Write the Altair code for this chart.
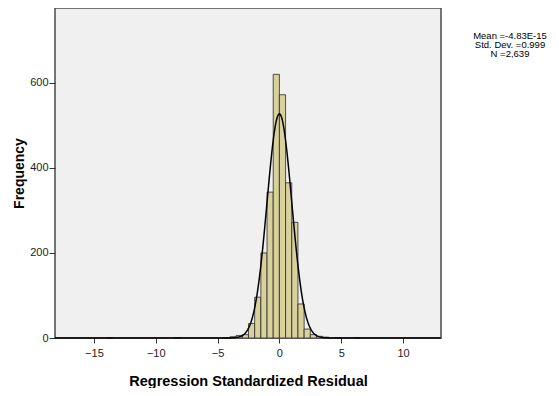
import altair as alt
import pandas as pd

# Histogram bins (bin start, bin end) and counts
bin_start = [-14.0, -8.5, -4.5, -4.0, -3.5, -3.0, -2.5, -2.0, -1.5, -1.0, -0.5, 0.0, 0.5, 1.0, 1.5, 2.0, 2.5, 3.0, 3.5, 4.5, 6.0]
bin_end   = [-13.5, -8.0, -4.0, -3.5, -3.0, -2.5, -2.0, -1.5, -1.0, -0.5, 0.0, 0.5, 1.0, 1.5, 2.0, 2.5, 3.0, 3.5, 4.0, 5.0, 6.5]
counts    = [1, 1, 1, 3, 6, 8, 34, 96, 200, 343, 620, 572, 365, 272, 80, 21, 8, 4, 2, 1, 1]

x_ticks = [-15, -10, -5, 0, 5, 10]
y_ticks = [0, 200, 400, 600]

mean_val = -4.83e-15
sd_val = 0.999
n_val = 2639
bin_width = 0.5

stats_lines = ["Mean =-4.83E-15", "Std. Dev. =0.999", "N =2,639"]

FONT = "Liberation Sans"

hist_df = pd.DataFrame({"start": bin_start, "end": bin_end, "count": counts})

xscale = alt.Scale(domain=[-18.15, 13.07], nice=False, zero=False)
yscale = alt.Scale(domain=[0, 776], nice=False)

xaxis = alt.Axis(values=x_ticks, title="Regression Standardized Residual", grid=False,
                 domain=False, tickColor="#333333", tickSize=5, labelFontSize=11,
                 labelColor="#222222", labelFont=FONT, titleFont=FONT, titleFontSize=14.5,
                 titleFontWeight="bold", titleColor="#000000", titlePadding=16, labelPadding=4)
yaxis = alt.Axis(values=y_ticks, title="Frequency", grid=False, domain=False,
                 tickColor="#333333", tickSize=6, labelFontSize=11, labelColor="#222222",
                 labelFont=FONT, titleFont=FONT, titleFontSize=14, titleFontWeight="bold",
                 titleColor="#000000", titlePadding=3, labelPadding=1)

bars = alt.Chart(hist_df).mark_rect(fill="#D8D19C", stroke="#2a2a2a", strokeWidth=0.8).encode(
    x=alt.X("start:Q", scale=xscale, axis=xaxis),
    x2="end:Q",
    y=alt.Y("count:Q", scale=yscale, axis=yaxis),
    y2=alt.datum(0),
)

curve = alt.Chart(alt.sequence(start=-18.15, stop=13.08, step=0.04, as_="x")).transform_calculate(
    dens=f"{n_val} * {bin_width} * densityNormal(datum.x, {mean_val}, {sd_val})"
).mark_line(color="#000000", strokeWidth=1.5).encode(
    x=alt.X("x:Q", scale=xscale),
    y=alt.Y("dens:Q", scale=yscale),
)

stats_df = pd.DataFrame({"txt": ["\n".join(stats_lines)]})
stats = alt.Chart(stats_df).mark_text(font=FONT, fontSize=9.5, align="center", baseline="top",
                                      lineBreak="\n", lineHeight=9, color="#000000").encode(
    text="txt:N",
    x=alt.value(455),
    y=alt.value(23),
)

chart = alt.layer(bars, curve, stats).properties(
    width=386, height=330,
    autosize=alt.AutoSizeParams(type="none"),
    padding={"left": 47, "top": 0, "right": 110, "bottom": 50},
).configure_view(fill="#F0F0F0", stroke="#4a4a4a", strokeWidth=1.5)

chart.save("out.html", embed_options={"renderer": "svg", "actions": False})
